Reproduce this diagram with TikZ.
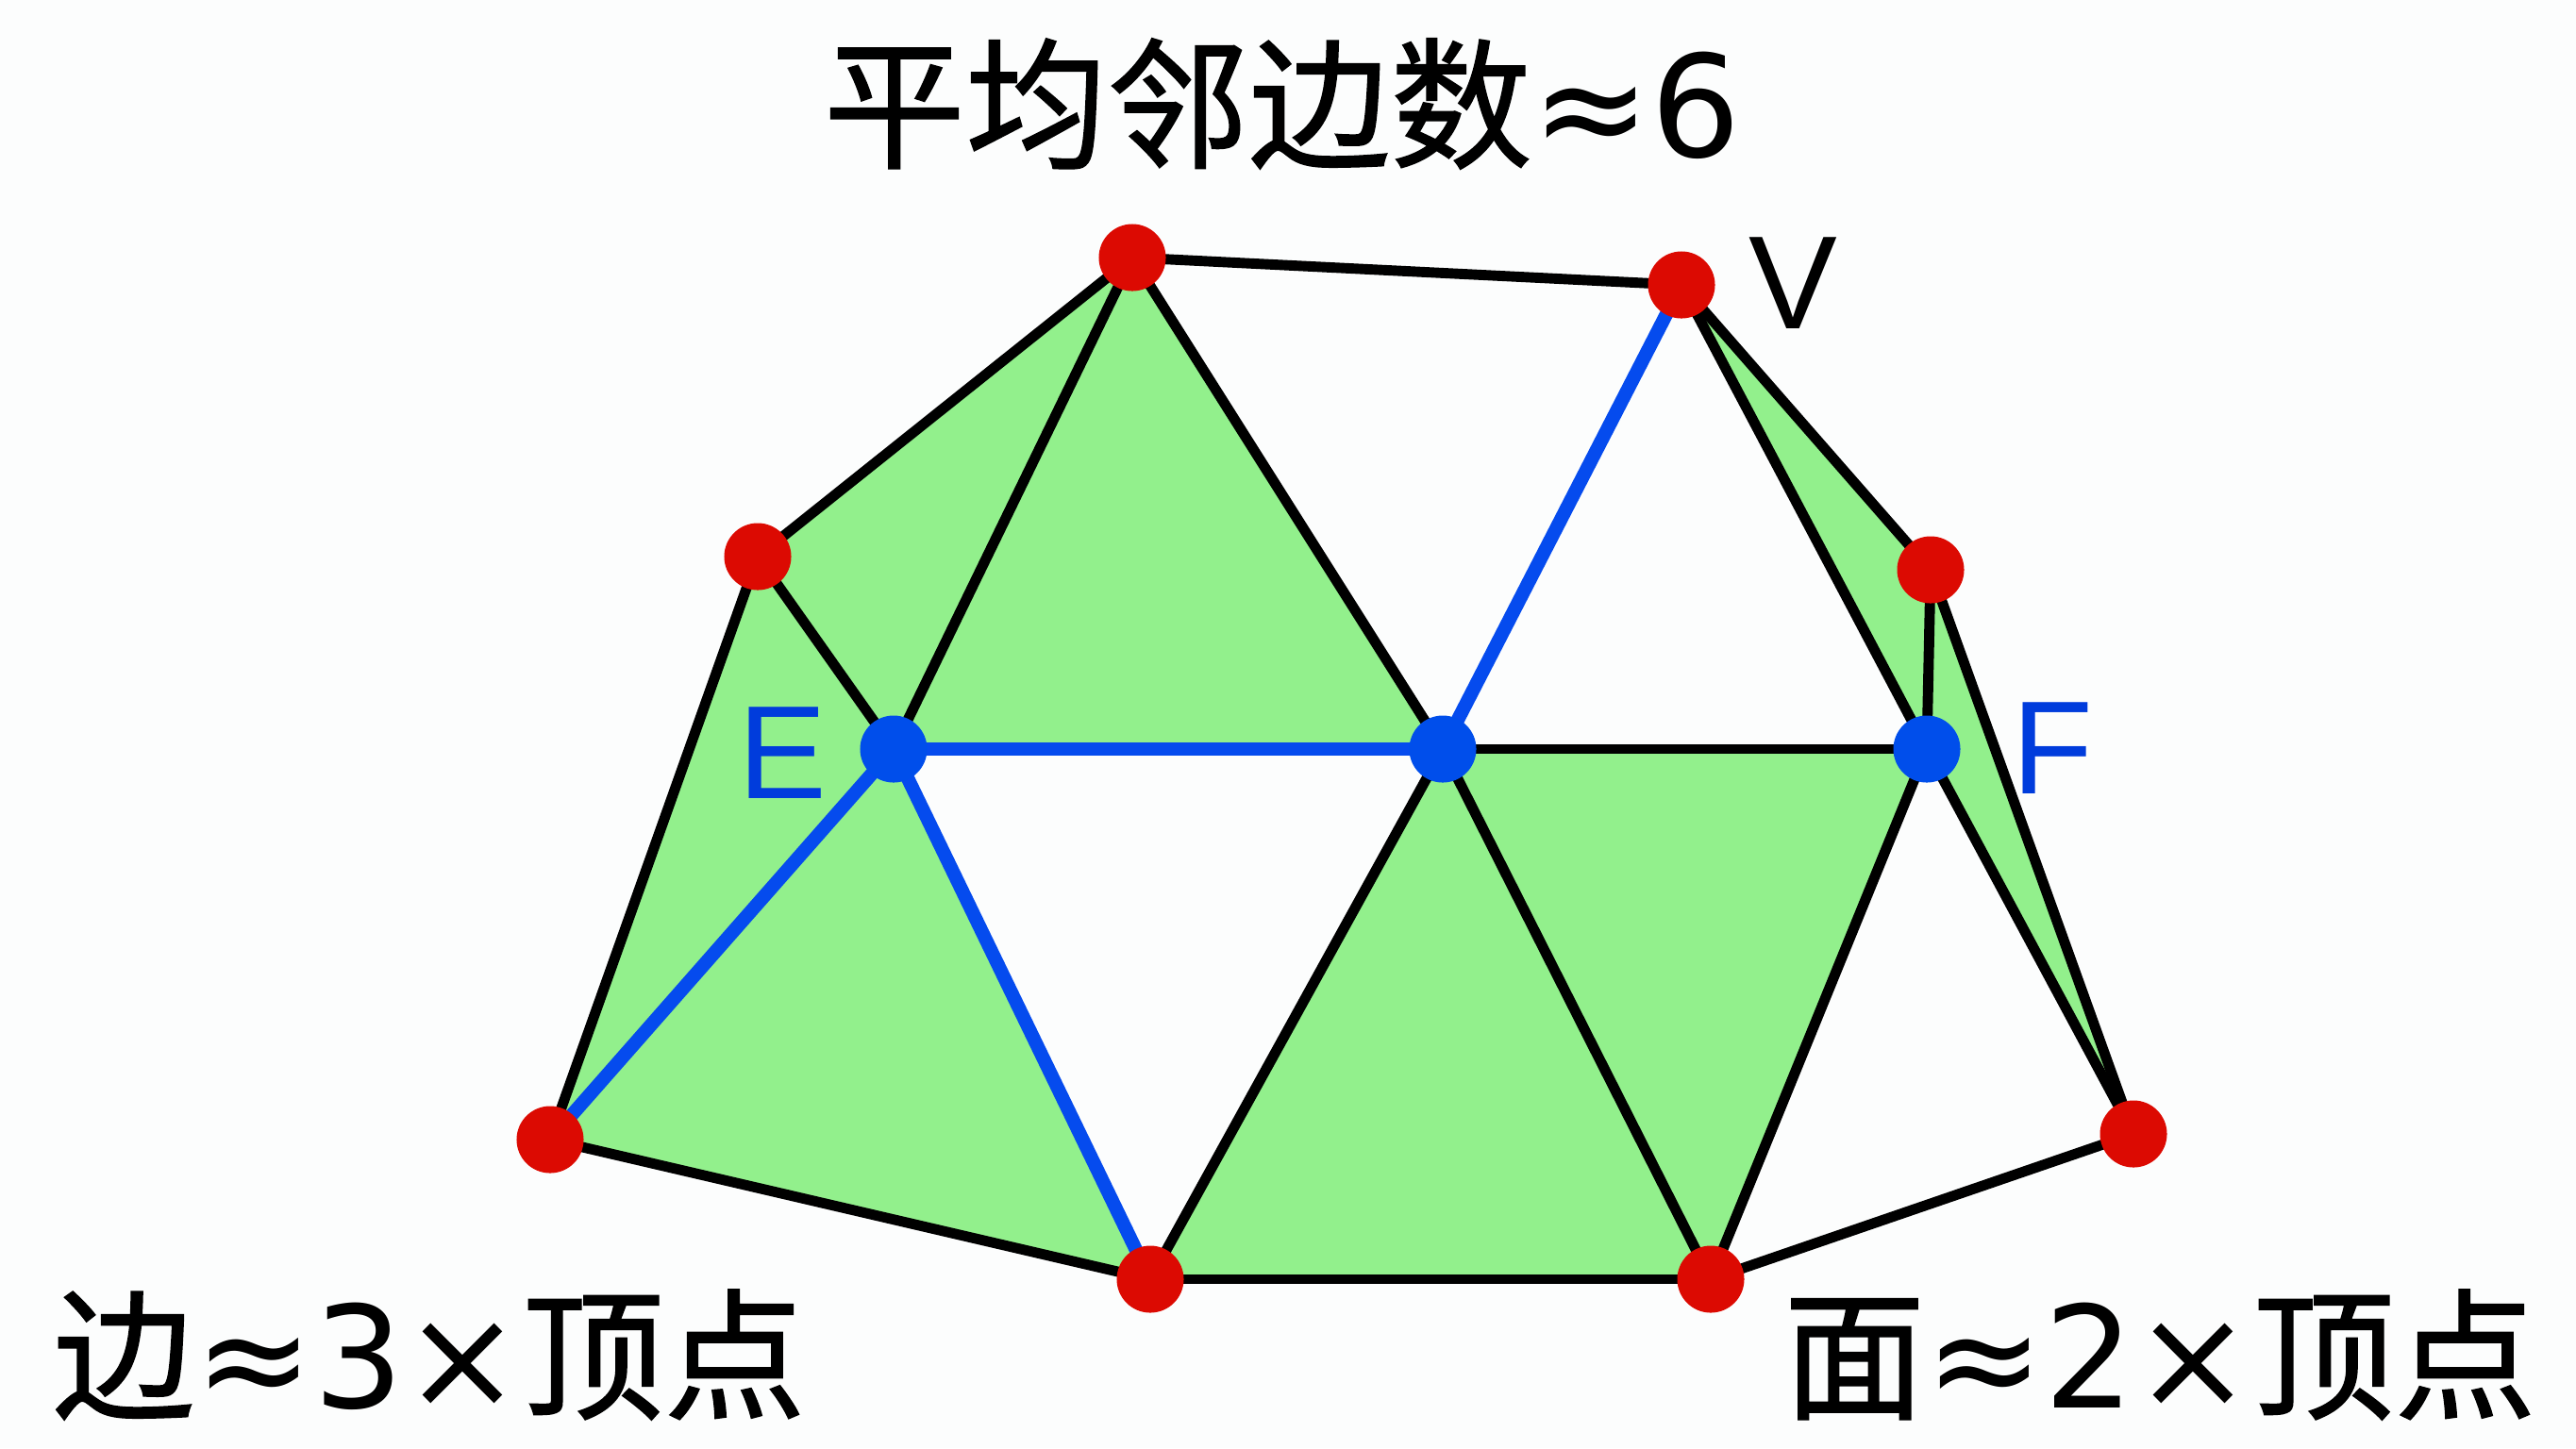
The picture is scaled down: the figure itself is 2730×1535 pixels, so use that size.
\documentclass[tikz,border=0pt]{standalone}
\usepackage{fontspec}
\setmainfont{Liberation Sans}
\newfontfamily\cjk[FakeBold=1]{Noto Sans CJK SC}
\newfontfamily\symf{DejaVu Sans}
\definecolor{bgc}{RGB}{252,253,253}
\definecolor{dotred}{RGB}{220,10,2}
\definecolor{dotblue}{RGB}{0,78,235}
\definecolor{edgeblue}{RGB}{5,75,238}
\definecolor{lblblue}{RGB}{0,60,220}
\definecolor{facegreen}{RGB}{146,240,140}
\tikzset{
  face/.style={fill=facegreen, draw=none},
  edgeblack/.style={draw=black, line width=3.1pt},
  edgebl/.style={draw=edgeblue, line width=4.1pt},
  reddot/.style={circle, fill=dotred, inner sep=0pt, minimum size=0.71cm},
  bluedot/.style={circle, fill=dotblue, inner sep=0pt, minimum size=0.71cm},
  bigtext/.style={font=\cjk\fontsize{42.7pt}{50pt}\selectfont, text=black, inner sep=0pt},
  letter/.style={font=\fontsize{40pt}{48pt}\selectfont, inner sep=0pt}
}
\newcommand{\sy}[1]{{\symf #1}}
\begin{document}
\begin{tikzpicture}[x=0.01cm, y=-0.01cm]
\fill[bgc] (0,0) rectangle (2730,1535);
\useasboundingbox (0,0) rectangle (2730,1535);
% vertices
\coordinate (A) at (1200,273);
\coordinate (V) at (1782,302);
\coordinate (B) at (803,590);
\coordinate (C) at (2046,604);
\coordinate (E) at (947,794);
\coordinate (M) at (1529,794);
\coordinate (F) at (2042,794);
\coordinate (D) at (583,1208);
\coordinate (G) at (1219,1356);
\coordinate (H) at (1813,1356);
\coordinate (I) at (2261,1202);
% faces
\path[face] (A) -- (B) -- (E) -- cycle;
\path[face] (A) -- (E) -- (M) -- cycle;
\path[face] (B) -- (E) -- (D) -- cycle;
\path[face] (E) -- (D) -- (G) -- cycle;
\path[face] (M) -- (G) -- (H) -- cycle;
\path[face] (M) -- (H) -- (F) -- cycle;
\path[face] (V) -- (C) -- (F) -- cycle;
\path[face] (C) -- (F) -- (I) -- cycle;
% black edges
\draw[edgeblack] (A) -- (V);
\draw[edgeblack] (A) -- (B);
\draw[edgeblack] (A) -- (E);
\draw[edgeblack] (A) -- (M);
\draw[edgeblack] (V) -- (C);
\draw[edgeblack] (V) -- (F);
\draw[edgeblack] (B) -- (E);
\draw[edgeblack] (B) -- (D);
\draw[edgeblack] (C) -- (F);
\draw[edgeblack] (C) -- (I);
\draw[edgeblack] (M) -- (F);
\draw[edgeblack] (M) -- (G);
\draw[edgeblack] (M) -- (H);
\draw[edgeblack] (F) -- (H);
\draw[edgeblack] (F) -- (I);
\draw[edgeblack] (D) -- (G);
\draw[edgeblack] (G) -- (H);
\draw[edgeblack] (H) -- (I);
% blue edges
\draw[edgebl] (V) -- (M);
\draw[edgebl] (E) -- (M);
\draw[edgebl] (E) -- (D);
\draw[edgebl] (E) -- (G);
% dots
\node[reddot] (nA) at (A) {};
\node[reddot] (nV) at (V) {};
\node[reddot] (nB) at (B) {};
\node[reddot] (nC) at (C) {};
\node[reddot] (nD) at (D) {};
\node[reddot] (nG) at (G) {};
\node[reddot] (nH) at (H) {};
\node[reddot] (nI) at (I) {};
\node[bluedot] (nE) at (E) {};
\node[bluedot] (nM) at (M) {};
\node[bluedot] (nF) at (F) {};
% labels
\node[letter, text=black] (lV) at (1900,300) {V};
\node[letter, text=lblblue] (lE) at (829,798) {E};
\node[letter, text=lblblue] (lF) at (2175,793) {F};
\node[bigtext] (title) at (1359,110) {平均邻边数\sy{≈6}};
\node[bigtext] (left) at (455,1436) {边\sy{≈3×}顶点};
\node[bigtext] (right) at (2289,1436) {面\sy{≈2×}顶点};
\end{tikzpicture}
\end{document}
